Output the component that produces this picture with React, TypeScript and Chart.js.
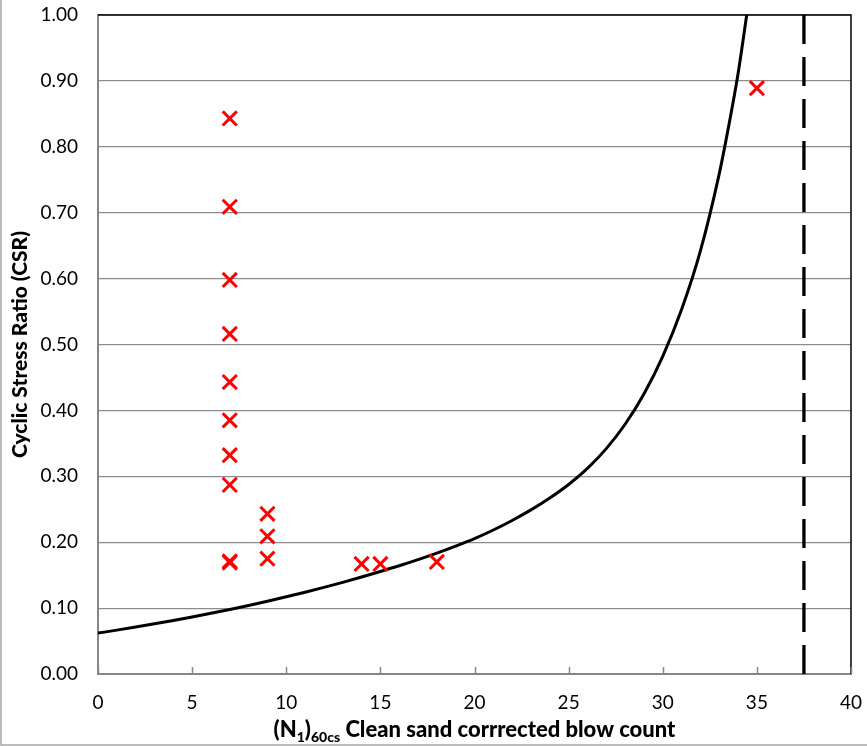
import React, { useEffect, useRef } from "react";
import { Chart, registerables } from "chart.js";

Chart.register(...registerables);

// Boundary curve
const curveN = [0, 1, 2, 3, 4, 5, 6, 7, 8, 9, 10, 11, 12, 13, 14, 15, 16, 17, 18, 19, 20, 21, 22, 23, 24, 25, 26, 27, 28, 29, 30, 31, 32, 33, 33.5, 34, 34.46];
const curveCSR = [0.062, 0.0666, 0.0713, 0.0762, 0.0813, 0.0866, 0.0921, 0.0979, 0.104, 0.1104, 0.1171, 0.1241, 0.1314, 0.1391, 0.1472, 0.1555, 0.1642, 0.1735, 0.1834, 0.194, 0.2054, 0.2185, 0.233, 0.249, 0.267, 0.2875, 0.312, 0.342, 0.379, 0.425, 0.482, 0.553, 0.642, 0.759, 0.831, 0.911, 1.0];

// Site data points
const siteN = [7, 7, 7, 7, 7, 7, 7, 7, 7, 7, 9, 9, 9, 14, 15, 18, 35];
const siteCSR = [0.843, 0.709, 0.598, 0.516, 0.443, 0.385, 0.332, 0.287, 0.169, 0.171, 0.243, 0.209, 0.175, 0.167, 0.167, 0.17, 0.889];

// Vertical dashed limit line
const limitN = [37.5, 37.5];
const limitCSR = [0, 1];

const xTickValues = [0, 5, 10, 15, 20, 25, 30, 35, 40];
const yTickValues = [0, 0.1, 0.2, 0.3, 0.4, 0.5, 0.6, 0.7, 0.8, 0.9, 1.0];

const FONT = "Lato";

const framePlugin = {
  id: "frame",
  beforeDraw(chart: any) {
    const { ctx, width, height } = chart;
    ctx.save();
    ctx.fillStyle = "#ffffff";
    ctx.fillRect(0, 0, width, height);
    ctx.restore();
  },
  afterDraw(chart: any) {
    const { ctx, chartArea: a, scales } = chart;
    ctx.save();
    // top & right plot border
    ctx.strokeStyle = "#000000";
    ctx.lineWidth = 1.5;
    ctx.beginPath();
    ctx.moveTo(a.left, a.top);
    ctx.lineTo(a.right, a.top);
    ctx.lineTo(a.right, a.bottom);
    ctx.stroke();
    // inside tick marks on x axis
    ctx.strokeStyle = "#868686";
    ctx.lineWidth = 1.5;
    ctx.beginPath();
    for (const v of xTickValues) {
      const px = Math.round(scales.x.getPixelForValue(v)) + 0.5;
      ctx.moveTo(px, a.bottom);
      ctx.lineTo(px, a.bottom - 7);
    }
    ctx.stroke();
    // outer frame
    ctx.strokeStyle = "#a6a6a6";
    ctx.lineWidth = 1.5;
    ctx.beginPath();
    ctx.moveTo(1, 0);
    ctx.lineTo(1, 745);
    ctx.lineTo(867, 745);
    ctx.stroke();

    // x axis title with subscripts
    const main = `900 22px ${FONT}`;
    const sub = `900 14px ${FONT}`;
    const parts: [string, boolean][] = [
      ["(N", false],
      ["1", true],
      [")", false],
      ["60cs", true],
      [" Clean sand corrrected blow count", false],
    ];
    let total = 0;
    const widths: number[] = [];
    for (const [t, s] of parts) {
      ctx.font = s ? sub : main;
      const w = ctx.measureText(t).width;
      widths.push(w);
      total += w;
    }
    let x = (a.left + a.right) / 2 - total / 2;
    const baseY = 737;
    ctx.fillStyle = "#000000";
    ctx.textBaseline = "alphabetic";
    ctx.textAlign = "left";
    parts.forEach(([t, s], i) => {
      ctx.font = s ? sub : main;
      ctx.fillText(t, x, s ? baseY + 5 : baseY);
      x += widths[i];
    });
    ctx.restore();
  },
};

export default function App() {
  const ref = useRef<HTMLCanvasElement | null>(null);

  useEffect(() => {
    if (!ref.current) return;
    const chart = new Chart(ref.current, {
      type: "scatter",
      data: {
        datasets: [
          {
            label: "Site data",
            data: siteN.map((n, i) => ({ x: n, y: siteCSR[i] })),
            pointStyle: "crossRot",
            pointRadius: 10,
            pointBorderWidth: 3,
            pointBorderColor: "#ff0000",
            pointBackgroundColor: "#ff0000",
            showLine: false,
          },
          {
            label: "CRR curve",
            data: curveN.map((n, i) => ({ x: n, y: curveCSR[i] })),
            showLine: true,
            borderColor: "#000000",
            borderWidth: 3,
            pointRadius: 0,
            cubicInterpolationMode: "monotone",
            fill: false,
          },
          {
            label: "Limit",
            data: limitN.map((n, i) => ({ x: n, y: limitCSR[i] })),
            showLine: true,
            borderColor: "#000000",
            borderWidth: 3.3,
            borderDash: [29, 13],
            pointRadius: 0,
            fill: false,
          },
        ],
      },
      options: {
        responsive: false,
        animation: false,
        layout: { padding: { left: 0, right: 16, top: 15, bottom: 0 } },
        plugins: {
          legend: { display: false },
          tooltip: { enabled: false },
        },
        scales: {
          x: {
            type: "linear",
            min: 0,
            max: 40,
            afterBuildTicks: (scale: any) => {
              scale.ticks = xTickValues.map((v) => ({ value: v }));
            },
            afterFit: (scale: any) => {
              scale.height = 72;
              scale.paddingLeft = 0;
              scale.paddingRight = 0;
            },
            ticks: {
              font: { family: FONT, size: 19 },
              color: "#000000",
              padding: 17,
              maxRotation: 0,
              callback: (v: any) => String(v),
            },
            grid: { display: false, drawTicks: false },
            border: { display: true, color: "#868686", width: 2 },
          },
          y: {
            type: "linear",
            min: 0,
            max: 1,
            afterBuildTicks: (scale: any) => {
              scale.ticks = yTickValues.map((v) => ({ value: v }));
            },
            afterFit: (scale: any) => {
              scale.width = 98;
              scale.paddingTop = 0;
              scale.paddingBottom = 0;
            },
            ticks: {
              font: { family: FONT, size: 19 },
              color: "#000000",
              padding: 20,
              callback: (v: any) => Number(v).toFixed(2),
            },
            grid: { color: "#8c8c8c", lineWidth: 1.2, drawTicks: false },
            border: { display: true, color: "#868686", width: 2 },
            title: {
              display: true,
              text: "Cyclic Stress Ratio (CSR)",
              font: { family: FONT, size: 21, weight: 900 },
              color: "#000000",
              padding: { top: 8, bottom: 0 },
            },
          },
        },
      },
      plugins: [framePlugin],
    } as any);
    return () => chart.destroy();
  }, []);

  return (
    <div style={{ position: "fixed", left: 0, top: 0, width: 867, height: 746, background: "#fff" }}>
      <canvas ref={ref} width={867} height={746} style={{ display: "block" }} />
    </div>
  );
}
